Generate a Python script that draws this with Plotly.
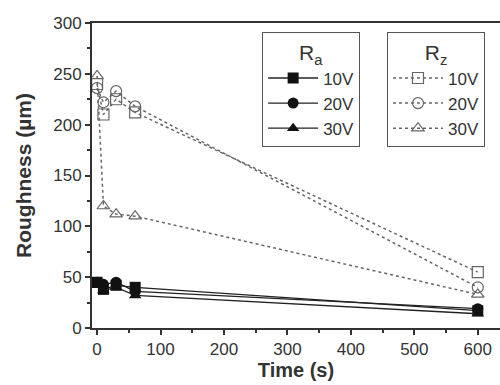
import plotly.graph_objects as go

time = [0, 10, 30, 60, 600]
ra_10v = [45, 38, 42, 40, 17]
ra_20v = [45, 43, 45, 36, 19]
ra_30v = [42, 37, 40, 32, 14]
rz_10v = [240, 210, 225, 212, 55]
rz_20v = [236, 222, 233, 218, 40]
rz_30v = [248, 120, 112, 110, 33]
labels = ["10V", "20V", "30V"]

FAM = "Liberation Sans, Arial, sans-serif"
fig = go.Figure()
ra_sym = ["square", "circle", "triangle-up"]
rz_sym = ["square-open", "circle-open", "triangle-up-open"]
for lab, ys, s in zip(labels, [ra_10v, ra_20v, ra_30v], ra_sym):
    fig.add_trace(go.Scatter(x=time, y=ys, name=lab, mode="lines+markers",
                             line=dict(color="#222", width=1.3),
                             marker=dict(symbol=s, size=11, color="#111"),
                             legend="legend"))
for lab, ys, s in zip(labels, [rz_10v, rz_20v, rz_30v], rz_sym):
    fig.add_trace(go.Scatter(x=time, y=ys, name=lab, mode="lines+markers",
                             line=dict(color="#666", width=1.5, dash="dot"),
                             marker=dict(symbol=s, size=11, color="#666",
                                         line=dict(width=1.2, color="#666")),
                             legend="legend2"))

font = dict(family=FAM, size=17, color="#333")
leg = dict(bordercolor="#555", borderwidth=1, bgcolor="rgba(255,255,255,0)",
           font=font, yanchor="top", xanchor="left", tracegroupgap=0,
           itemwidth=50)
fig.update_layout(
    width=500, height=385,
    margin=dict(l=92, r=0, t=23, b=57),
    plot_bgcolor="white", paper_bgcolor="white",
    font=font,
    legend=dict(**leg, x=0.417, y=0.97,
                title=dict(text="R<sub>a</sub>", side="top center",
                           font=dict(size=21, family=FAM, color="#333"))),
    legend2=dict(**leg, x=0.723, y=0.97,
                 title=dict(text="R<sub>z</sub>", side="top center",
                            font=dict(size=21, family=FAM, color="#333"))),
)
fig.update_xaxes(range=[-8, 635], tickvals=[0, 100, 200, 300, 400, 500, 600],
                 ticks="outside", ticklen=5, tickwidth=1.5, tickcolor="#333",
                 showline=True, linecolor="#333", linewidth=2, mirror=True,
                 showgrid=False, zeroline=False, automargin=False,
                 minor=dict(dtick=50, tick0=0, ticks="outside", ticklen=3, tickcolor="#333"),
                 title=dict(text="<b>Time (s)</b>", font=dict(size=20), standoff=0))
fig.update_yaxes(range=[0, 300], tickvals=[0, 50, 100, 150, 200, 250, 300],
                 ticks="outside", ticklen=5, tickwidth=1.5, tickcolor="#333",
                 showline=True, linecolor="#333", linewidth=2,
                 showgrid=False, zeroline=False, automargin=False,
                 minor=dict(dtick=25, tick0=0, ticks="outside", ticklen=3, tickcolor="#333"),
                 title=dict(text="<b>Roughness (µm)</b>", font=dict(size=21), standoff=16))
fig.write_html("out.html", config={"displayModeBar": False},
               post_script="document.body.style.margin='0';")
